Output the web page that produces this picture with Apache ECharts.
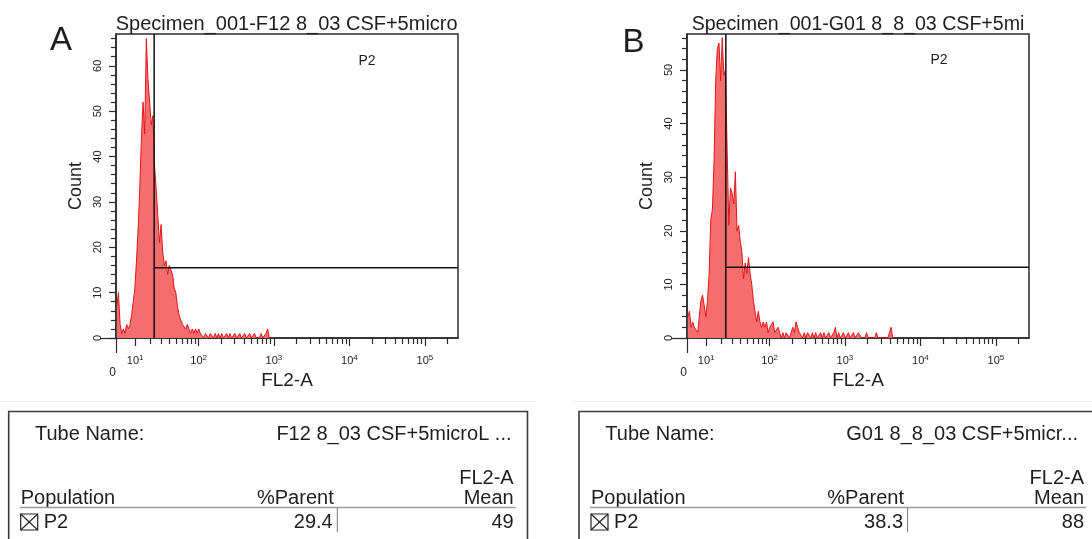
<!DOCTYPE html>
<html><head><meta charset="utf-8">
<script src="https://cdn.jsdelivr.net/npm/echarts@6/dist/echarts.min.js"></script>
<style>html,body{margin:0;padding:0;background:#fff}#c{width:1092px;height:539px}</style>
</head><body><div id="c"></div>
<script>
// ---------------- data ----------------
const panelLetters = ['A', 'B'];
const titles = ['Specimen_001-F12 8_03 CSF+5micro', 'Specimen_001-G01 8_8_03 CSF+5mi'];
const gateName = 'P2';
// histogram counts per display channel (channel width = binStep, biexponential display units)
const binStep = 0.05;
const countsA = [7,10,3,1,2,1,3,2,3,5,8,11,17,24,33,44,52,45,66,57,52,47,49,38,33,27,21,25,19,16,
  17,14,16,15,14,11,10,7,5,4,3,3,2,3,2,1,2,1,2,1,2,1,1,0,1,1,0,1,1,0,
  1,0,1,0,1,0,0,1,0,1,0,0,1,0,0,1,0,0,1,0,0,1,0,0,1,0,0,0,1,0,0,1,2,0,0];
const countsB = [4,5,2,3,2,2,1,4,7,8,6,4,7,12,22,24,33,48,54,55,48,56,49,50,35,21,28,27,25,31,
  20,21,18,16,11,14,12,15,12,10,7,5,3,5,3,2,3,2,3,1,2,2,3,1,1,2,1,0,1,0,
  1,1,0,1,2,1,3,2,1,1,0,1,0,1,1,0,1,0,1,0,0,1,0,1,0,0,1,0,0,1,2,0,1,0,0,1,0,0,1,0,
  0,1,0,0,1,1,0,0,0,1,0,0,0,0,0,1,0,0,0,0,0,0,0,0,2,0];
const yMax = [67, 56.7];
const gates = [{fl2: 23.4, count: 15.5}, {fl2: 24.0, count: 13.2}];
const xMajorValues = [10, 100, 1000, 10000, 100000];
const xMajorExp = ['1', '2', '3', '4', '5'];
const xMinorMultipliers = [2, 3, 4, 5, 6, 7, 8, 9];
const xTop = 262144;
const yMajor = [[0, 10, 20, 30, 40, 50, 60], [0, 10, 20, 30, 40, 50]];
const yMinorStep = 2;
const tubeNames = ['F12 8_03 CSF+5microL ...', 'G01 8_8_03 CSF+5micr...'];
const pctParent = ['29.4', '38.3'];
const fl2Mean = ['49', '88'];

// ---------------- scale helpers ----------------
const FONT = '"Liberation Sans", Arial, Helvetica, sans-serif';
const W = 16.2;                       // biexponential width
const biex = v => Math.asinh(v / W);  // FL2-A value -> display units
const X_MAX = 10.43;
const TXT = '#1e1e1e';
const gridPos = [{left: 116, top: 34, width: 342, height: 304}, {left: 687, top: 34, width: 342, height: 304}];

const majorPos = xMajorValues.map(biex);
const minorPos = [];
xMajorValues.forEach(d => xMinorMultipliers.forEach(m => { if (m * d < xTop) minorPos.push(biex(m * d)); }));

const grid = [], xAxis = [], yAxis = [], series = [];
gridPos.forEach((g, p) => {
  grid.push(Object.assign({show: true, borderColor: '#2a2a2a', borderWidth: 1.5, backgroundColor: '#fff'}, g));
  const base = {type: 'value', gridIndex: p, min: 0, max: X_MAX, position: 'bottom', splitLine: {show: false}};
  const tickLS = {color: '#2a2a2a', width: 1.2};
  xAxis.push(Object.assign({}, base, {
    axisLine: {show: true, lineStyle: {color: '#2a2a2a', width: 1.5}},
    axisTick: {show: true, customValues: majorPos, length: 8, lineStyle: tickLS},
    axisLabel: {show: true, customValues: majorPos, margin: 16, color: TXT,
      formatter: v => { let k = 0, best = 1e9; majorPos.forEach((m, i) => { if (Math.abs(m - v) < best) { best = Math.abs(m - v); k = i; } }); return '{b|10}{s|' + xMajorExp[k] + '}'; },
      rich: {b: {fontFamily: FONT, fontSize: 11, lineHeight: 14, color: TXT},
             s: {fontFamily: FONT, fontSize: 8, lineHeight: 8, verticalAlign: 'top', color: TXT}}},
    name: 'FL2-A', nameLocation: 'middle', nameGap: 25,
    nameTextStyle: {fontFamily: FONT, fontSize: 19, color: TXT}
  }));
  xAxis.push(Object.assign({}, base, {
    axisLine: {show: false}, axisTick: {show: true, customValues: minorPos, length: 6, lineStyle: tickLS},
    axisLabel: {show: false}
  }));
  xAxis.push(Object.assign({}, base, {
    axisLine: {show: false}, axisTick: {show: true, customValues: [0], length: 15, lineStyle: tickLS},
    axisLabel: {show: true, customValues: [0], formatter: () => '0', margin: 29, align: 'right',
      fontFamily: FONT, fontSize: 12, color: TXT}
  }));
  const minorY = [];
  for (let v = yMinorStep; v < yMax[p]; v += yMinorStep) if (v % 10 !== 0) minorY.push(v);
  const ybase = {type: 'value', gridIndex: p, min: 0, max: yMax[p], position: 'left', splitLine: {show: false}};
  yAxis.push(Object.assign({}, ybase, {
    axisLine: {show: true, lineStyle: {color: '#2a2a2a', width: 1.5}},
    axisTick: {show: true, customValues: yMajor[p], length: 7, lineStyle: tickLS},
    axisLabel: {show: true, customValues: yMajor[p], rotate: 90, margin: 13,
      fontFamily: FONT, fontSize: 11, color: TXT},
    name: 'Count', nameLocation: 'middle', nameGap: 31, nameRotate: 90,
    nameTextStyle: {fontFamily: FONT, fontSize: 18, color: TXT}
  }));
  yAxis.push(Object.assign({}, ybase, {
    axisLine: {show: false}, axisTick: {show: true, customValues: minorY, length: 5, lineStyle: tickLS},
    axisLabel: {show: false}
  }));
  yAxis.push(Object.assign({}, ybase, {
    axisLine: {show: false}, axisTick: {show: true, customValues: [0], length: 16, lineStyle: tickLS},
    axisLabel: {show: false}
  }));

  const counts = p === 0 ? countsA : countsB;
  series.push({
    type: 'line', xAxisIndex: 3 * p, yAxisIndex: 3 * p, showSymbol: false, silent: true, z: 2,
    data: counts.map((c, i) => [(i + 0.5) * binStep, c]),
    lineStyle: {color: '#e3161b', width: 1},
    areaStyle: {color: '#f56e6e', opacity: 1}
  });
  const gx = biex(gates[p].fl2);
  series.push({
    type: 'line', xAxisIndex: 3 * p, yAxisIndex: 3 * p, showSymbol: false, silent: true, z: 4,
    data: [[gx, 0], [gx, yMax[p]]], lineStyle: {color: '#111', width: 1.5}
  });
  series.push({
    type: 'line', xAxisIndex: 3 * p, yAxisIndex: 3 * p, showSymbol: false, silent: true, z: 4,
    data: [[gx, gates[p].count], [X_MAX, gates[p].count]], lineStyle: {color: '#111', width: 1.5}
  });
});

// ---------------- graphic texts & tables ----------------
const els = [];
const txt = (x, y, text, size, align, extra) => els.push(Object.assign({
  type: 'text', x: x, y: y, silent: true,
  style: {text: text, fontFamily: FONT, fontSize: size, fill: TXT, align: align || 'left', verticalAlign: 'middle'}
}, extra || {}));
const line = (x1, y1, x2, y2, color, w) => els.push({type: 'line', silent: true,
  shape: {x1: x1, y1: y1, x2: x2, y2: y2}, style: {stroke: color, lineWidth: w}});

txt(286.7, 24.5, titles[0], 20, 'center');
txt(858, 24.5, titles[1], 19.6, 'center');
txt(367, 61, gateName, 14, 'center');
txt(939, 60, gateName, 14, 'center');
txt(61, 40.5, panelLetters[0], 33, 'center');
txt(633.5, 43, panelLetters[1], 33, 'center');

line(0, 401.5, 536, 401.5, '#eeeeee', 1);
line(574, 401.5, 1092, 401.5, '#eeeeee', 1);

[[8.7, 518.8, 511.5], [579, 540, 1078]].forEach((t, k) => {
  const ox = t[0];
  els.push({type: 'rect', silent: true, shape: {x: ox, y: 411.5, width: t[1], height: 140},
    style: {fill: 'none', stroke: '#3c3c3c', lineWidth: 1.6}});
  txt(ox + 26.3, 434, 'Tube Name:', 20);
  txt(t[2], 434, tubeNames[k], 20, 'right');
  txt(ox + 505, 478, 'FL2-A', 20, 'right');
  txt(ox + 12, 498, 'Population', 20);
  txt(ox + 325, 498, '%Parent', 20, 'right');
  txt(ox + 505, 498, 'Mean', 20, 'right');
  line(ox + 11, 507.5, ox + 507, 507.5, '#9a9a9a', 1.6);
  els.push({type: 'rect', silent: true, shape: {x: ox + 12, y: 514, width: 17, height: 16},
    style: {fill: 'none', stroke: '#222', lineWidth: 1.2}});
  line(ox + 12, 514, ox + 29, 530, '#222', 1.1);
  line(ox + 29, 514, ox + 12, 530, '#222', 1.1);
  txt(ox + 35, 522, gateName, 20);
  txt(ox + 324, 522, pctParent[k], 20, 'right');
  line(ox + 328.6, 508, ox + 328.6, 532, '#777', 1);
  txt(ox + 505, 522, fl2Mean[k], 20, 'right');
});

const chart = echarts.init(document.getElementById('c'), null, {renderer: 'canvas'});
chart.setOption({
  animation: false,
  backgroundColor: '#fff',
  grid: grid, xAxis: xAxis, yAxis: yAxis, series: series,
  graphic: {elements: els}
});
</script></body></html>
